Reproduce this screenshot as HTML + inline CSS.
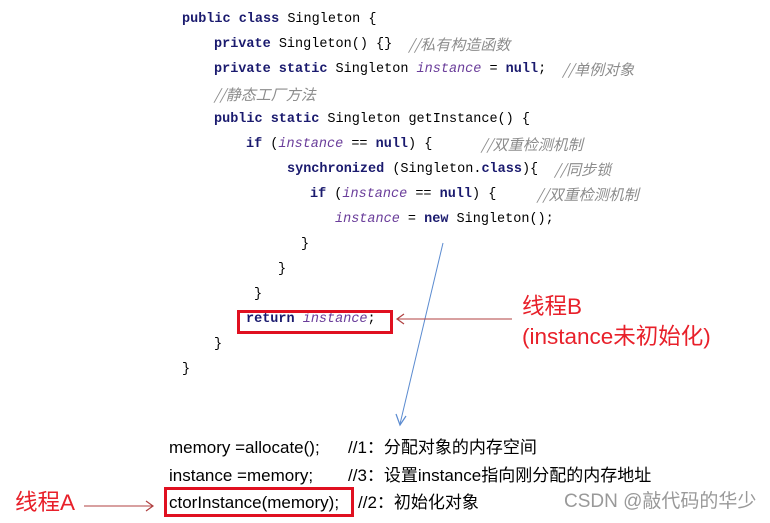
<!DOCTYPE html>
<html><head><meta charset="utf-8"><style>
body{margin:0;width:770px;height:523px;background:#fff;position:relative;overflow:hidden}
.c{position:absolute;font-family:"Liberation Mono","Noto Sans CJK SC",monospace;font-size:13.5px;color:#000;white-space:pre;line-height:16px;height:16px}
.k{color:#1a1a6e;font-weight:bold}
.i{color:#6a3d9a;font-style:italic}
.m{color:#8c8c8c;font-style:italic;font-family:"Noto Sans CJK SC",sans-serif;font-size:15px;line-height:16px;display:inline-block;vertical-align:top;height:16px}
.t{position:absolute;font-family:"Liberation Sans","Noto Sans CJK SC",sans-serif;font-size:17px;white-space:pre;line-height:20px;height:20px;color:#000}
.t span{display:inline-block;height:20px;line-height:20px;vertical-align:top}
.r{position:absolute;font-family:"Liberation Sans","Noto Sans CJK SC",sans-serif;font-size:22.5px;color:#e8202a;white-space:pre;line-height:28px;height:28px}
.box{position:absolute;border:3px solid #e01020;box-sizing:border-box}
</style></head><body>
<div class="c" style="left:182px;top:12px"><span class="k">public class</span> Singleton {</div>
<div class="c" style="left:214px;top:37px"><span class="k">private</span> Singleton() {}  <span class="m">//私有构造函数</span></div>
<div class="c" style="left:214px;top:62px"><span class="k">private static</span> Singleton <span class="i">instance</span> = <span class="k">null</span>;  <span class="m">//单例对象</span></div>
<div class="c" style="left:214px;top:87px"><span class="m">//静态工厂方法</span></div>
<div class="c" style="left:214px;top:112px"><span class="k">public static</span> Singleton getInstance() {</div>
<div class="c" style="left:246px;top:137px"><span class="k">if</span> (<span class="i">instance</span> == <span class="k">null</span>) {      <span class="m">//双重检测机制</span></div>
<div class="c" style="left:287px;top:162px"><span class="k">synchronized</span> (Singleton.<span class="k">class</span>){  <span class="m">//同步锁</span></div>
<div class="c" style="left:310px;top:187px"><span class="k">if</span> (<span class="i">instance</span> == <span class="k">null</span>) {     <span class="m">//双重检测机制</span></div>
<div class="c" style="left:335px;top:212px"><span class="i">instance</span> = <span class="k">new</span> Singleton();</div>
<div class="c" style="left:301px;top:237px">}</div>
<div class="c" style="left:278px;top:262px">}</div>
<div class="c" style="left:254px;top:287px">}</div>
<div class="c" style="left:246px;top:312px"><span class="k">return</span> <span class="i">instance</span>;</div>
<div class="c" style="left:214px;top:337px">}</div>
<div class="c" style="left:182px;top:362px">}</div>
<div class="box" style="left:237px;top:310px;width:156px;height:24px"></div>
<svg style="position:absolute;left:0;top:0" width="770" height="523">
<line x1="443" y1="243" x2="400" y2="424" stroke="#5b8bd0" stroke-width="1"/>
<polyline points="396,414 400,425 406,416" fill="none" stroke="#5b8bd0" stroke-width="1.2"/>
<line x1="397" y1="319" x2="512" y2="319" stroke="#b04040" stroke-width="1"/>
<polyline points="404,314 397,319 404,324" fill="none" stroke="#b04040" stroke-width="1.2"/>
<line x1="84" y1="506" x2="153" y2="506" stroke="#b04040" stroke-width="1"/>
<polyline points="146,501 153,506 146,511" fill="none" stroke="#b04040" stroke-width="1.2"/>
</svg>
<div class="r" style="left:522px;top:293px">线程B</div>
<div class="r" style="left:522px;top:323px">(instance未初始化)</div>
<div class="r" style="left:15px;top:489px">线程A</div>
<div class="t" style="left:169px;top:438px"><span>memory =allocate();</span></div>
<div class="t" style="left:348px;top:438px"><span>//1：分配对象的内存空间</span></div>
<div class="t" style="left:169px;top:466px"><span>instance =memory;</span></div>
<div class="t" style="left:348px;top:466px"><span>//3：设置instance指向刚分配的内存地址</span></div>
<div class="t" style="left:169px;top:493px"><span>ctorInstance(memory);</span></div>
<div class="t" style="left:358px;top:493px"><span>//2：初始化对象</span></div>
<div class="box" style="left:164px;top:487px;width:190px;height:30px"></div>
<div class="t" style="left:564px;top:492px;color:#999;font-size:19px"><span>CSDN @敲代码的华少</span></div>
</body></html>
